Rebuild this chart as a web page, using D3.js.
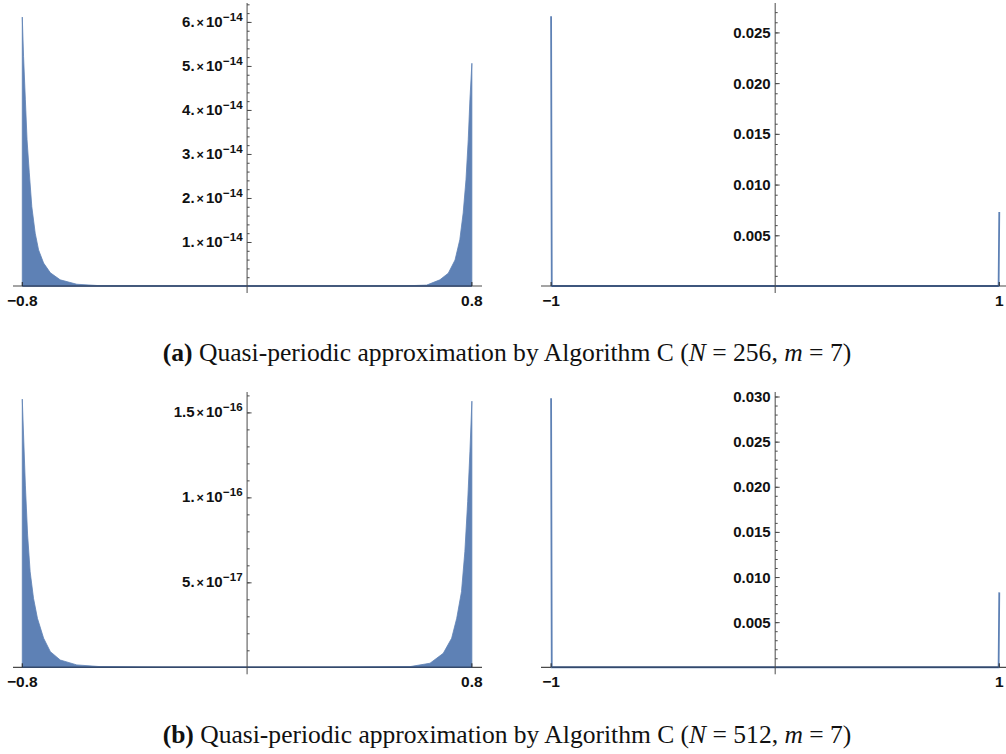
<!DOCTYPE html>
<html>
<head>
<meta charset="utf-8">
<script src="https://cdn.jsdelivr.net/npm/d3@7"></script>
<style>
  body { margin: 0; background: #fff; }
  svg { display: block; }
</style>
</head>
<body>
<script>
// envelope of the dense oscillation (units of 1e-14 / 1e-17)
const topLeftX = [-0.8, -0.7954, -0.789, -0.783, -0.775, -0.766, -0.754, -0.742, -0.724, -0.700, -0.665, -0.606, -0.523, -0.3, 0, 0.3, 0.568, 0.639, 0.686, 0.716, 0.740, 0.757, 0.769, 0.779, 0.787, 0.793, 0.8]
const topLeftY = [6.11, 5.21, 4.23, 3.32, 2.57, 1.80, 1.20, 0.82, 0.52, 0.30, 0.14, 0.04, 0.007, 0.001, 0.0005, 0.001, 0.005, 0.02, 0.14, 0.29, 0.59, 1.05, 1.66, 2.41, 3.32, 4.23, 5.06]

const botLeftX = [-0.8, -0.789, -0.781, -0.772, -0.760, -0.746, -0.724, -0.700, -0.665, -0.606, -0.523, -0.3, 0, 0.3, 0.580, 0.651, 0.698, 0.728, 0.746, 0.763, 0.775, 0.785, 0.793, 0.8]
const botLeftY = [15.78, 10.72, 7.78, 5.62, 4.06, 2.88, 1.71, 0.92, 0.43, 0.14, 0.04, 0.005, 0.002, 0.005, 0.04, 0.24, 0.82, 1.71, 2.88, 4.45, 6.8, 9.74, 12.68, 15.66]

// spikes at the ends of [-1, 1]
const topRightX = [-1, -0.997, 0.997, 1]
const topRightY = [0.0266, 0, 0, 0.0073]
const botRightX = [-1, -0.997, 0.997, 1]
const botRightY = [0.0298, 0, 0, 0.0083]

const xTicksLeft = [-0.8, 0.8]
const xTicksRight = [-1, 1]

const topLeftTicks = [[1, "1.", "−14"], [2, "2.", "−14"], [3, "3.", "−14"], [4, "4.", "−14"], [5, "5.", "−14"], [6, "6.", "−14"]]
const botLeftTicks = [[5, "5.", "−17"], [10, "1.", "−16"], [15, "1.5", "−16"]]
const topRightTicks = [0.005, 0.010, 0.015, 0.020, 0.025]
const botRightTicks = [0.005, 0.010, 0.015, 0.020, 0.025, 0.030]

const captions = [
    {bold: "(a)", n: "256", m: "7"},
    {bold: "(b)", n: "512", m: "7"}
]

const blue = "#5E81B5"
const axisCol = "#4a4a4a"
const tickFont = "'Liberation Sans', Arial, Helvetica, sans-serif"

function setattrs(shape, dict) {
    for (let [prop, val] of Object.entries(dict)) {
        shape.attr(prop, val)
    }
}

const svg = d3.select("body").append("svg")
setattrs(svg, {"width": 1006, "height": 754})

function drawPanel(p) {
    const x = d3.scaleLinear().domain(p.xdom).range(p.xr)
    const y = d3.scaleLinear().domain([0, p.ymax]).range([p.y0, p.ytop])
    const g = svg.append("g")

    // x axis line
    g.append("line")
        .attr("x1", p.xr[0]).attr("x2", p.xr[1])
        .attr("y1", y(0)).attr("y2", y(0))
        .attr("stroke", axisCol).attr("stroke-width", 1.2)

    // series
    if (p.kind === "area") {
        const area = d3.area().x((d, i) => x(p.xs[i])).y0(y(0)).y1(d => y(d))
        g.append("path").datum(p.ys)
            .attr("d", area)
            .attr("fill", blue).attr("stroke", blue).attr("stroke-width", 0.8)
        g.append("line")
            .attr("x1", x(p.xs[0])).attr("x2", x(p.xs[p.xs.length - 1]))
            .attr("y1", y(0)).attr("y2", y(0))
            .attr("stroke", "#34496b").attr("stroke-width", 1.5)
    } else {
        const line = d3.line().x((d, i) => x(p.xs[i])).y(d => y(d))
        g.append("path").datum(p.ys)
            .attr("d", line)
            .attr("fill", "none").attr("stroke", blue).attr("stroke-width", 1.8)
        g.append("line")
            .attr("x1", x(p.xs[1])).attr("x2", x(p.xs[2]))
            .attr("y1", y(0)).attr("y2", y(0))
            .attr("stroke", "#34496b").attr("stroke-width", 1.5)
    }

    // y axis line, slightly below the x axis like Mathematica
    const ax = x(0)
    g.append("line")
        .attr("x1", ax).attr("x2", ax)
        .attr("y1", p.ytop).attr("y2", y(0) + 7)
        .attr("stroke", axisCol).attr("stroke-width", 1)

    // minor ticks
    const minorAxis = d3.axisLeft(y).tickValues(p.minor).tickSize(-2.5).tickFormat("")
    const gm = g.append("g").attr("transform", `translate(${ax},0)`).call(minorAxis)
    gm.select(".domain").remove()
    gm.selectAll("line").attr("stroke", axisCol)

    // major ticks
    const majorVals = p.kind === "area" ? p.yticks.map(t => t[0] * p.unit) : p.yticks
    const majorAxis = d3.axisLeft(y).tickValues(majorVals).tickSize(-4.5).tickFormat("")
    const gM = g.append("g").attr("transform", `translate(${ax},0)`).call(majorAxis)
    gM.select(".domain").remove()
    gM.selectAll("line").attr("stroke", axisCol)

    // y labels
    if (p.kind === "area") {
        for (let [v, mant, ex] of p.yticks) {
            const t = g.append("text")
            setattrs(t, {
                "x": ax - 4.5, "y": y(v * p.unit) + 5,
                "text-anchor": "end", "fill": "#111",
                "font-family": tickFont, "font-weight": "bold", "font-size": 15
            })
            t.append("tspan").text(mant)
            t.append("tspan").text("×").attr("font-size", 12.5).attr("dx", 2)
            t.append("tspan").text("10").attr("dx", 2)
            t.append("tspan").text(ex).attr("font-size", 11.5).attr("dy", -6).attr("dx", 0.5)
        }
    } else {
        for (let v of p.yticks) {
            const t = g.append("text").text(d3.format(".3f")(v))
            setattrs(t, {
                "x": ax - 4.5, "y": y(v) + 5.5,
                "text-anchor": "end", "fill": "#111",
                "font-family": tickFont, "font-weight": "bold", "font-size": 15
            })
        }
    }

    // x ticks + labels
    for (let v of p.xticks) {
        g.append("line")
            .attr("x1", x(v)).attr("x2", x(v))
            .attr("y1", y(0)).attr("y2", y(0) - 4)
            .attr("stroke", "#222").attr("stroke-width", 1)
        const lab = v < 0 ? "−" + d3.format("")(-v) : d3.format("")(v)
        const t = g.append("text").text(lab)
        setattrs(t, {
            "x": x(v), "y": y(0) + 19.5,
            "text-anchor": "middle", "fill": "#111",
            "font-family": tickFont, "font-weight": "bold", "font-size": 15.5
        })
    }
}

const panels = [
    {kind: "area", xs: topLeftX, ys: topLeftY.map(v => v * 1e-14), unit: 1e-14,
     xdom: [-0.833, 0.836], xr: [13, 482], y0: 286, ytop: 3, ymax: 6.43e-14,
     yticks: topLeftTicks, minor: d3.range(1, 33).map(i => i * 0.2e-14), xticks: xTicksLeft},
    {kind: "spike", xs: topRightX, ys: topRightY,
     xdom: [-1.045, 1.03], xr: [541, 1006], y0: 286, ytop: 3, ymax: 0.0279,
     yticks: topRightTicks, minor: d3.range(1, 28).map(i => i * 0.001), xticks: xTicksRight},
    {kind: "area", xs: botLeftX, ys: botLeftY.map(v => v * 1e-17), unit: 1e-17,
     xdom: [-0.833, 0.836], xr: [13, 482], y0: 667.3, ytop: 392, ymax: 1.62e-16,
     yticks: botLeftTicks, minor: d3.range(1, 17).map(i => i * 1e-17), xticks: xTicksLeft},
    {kind: "spike", xs: botRightX, ys: botRightY,
     xdom: [-1.045, 1.03], xr: [541, 1006], y0: 667.3, ytop: 392, ymax: 0.0305,
     yticks: botRightTicks, minor: d3.range(1, 31).map(i => i * 0.001), xticks: xTicksRight}
]

for (let p of panels) drawPanel(p)

// captions
const capY = [361, 743]
captions.forEach((c, i) => {
    const t = svg.append("text")
    setattrs(t, {
        "x": 507, "y": capY[i], "text-anchor": "middle",
        "font-family": "'Liberation Serif', 'Times New Roman', serif", "font-size": 19, "fill": "#111"
    })
    t.append("tspan").text(c.bold).attr("font-weight", "bold")
    t.append("tspan").text(" Quasi-periodic approximation by Algorithm C (")
    t.append("tspan").text("N").attr("font-style", "italic")
    t.append("tspan").text(" = " + c.n + ", ")
    t.append("tspan").text("m").attr("font-style", "italic")
    t.append("tspan").text(" = " + c.m + ")")
    // stretch to the caption width in the picture
    const w = t.node().getComputedTextLength()
    t.attr("font-size", 19 * 689 / w)
})
</script>
</body>
</html>
